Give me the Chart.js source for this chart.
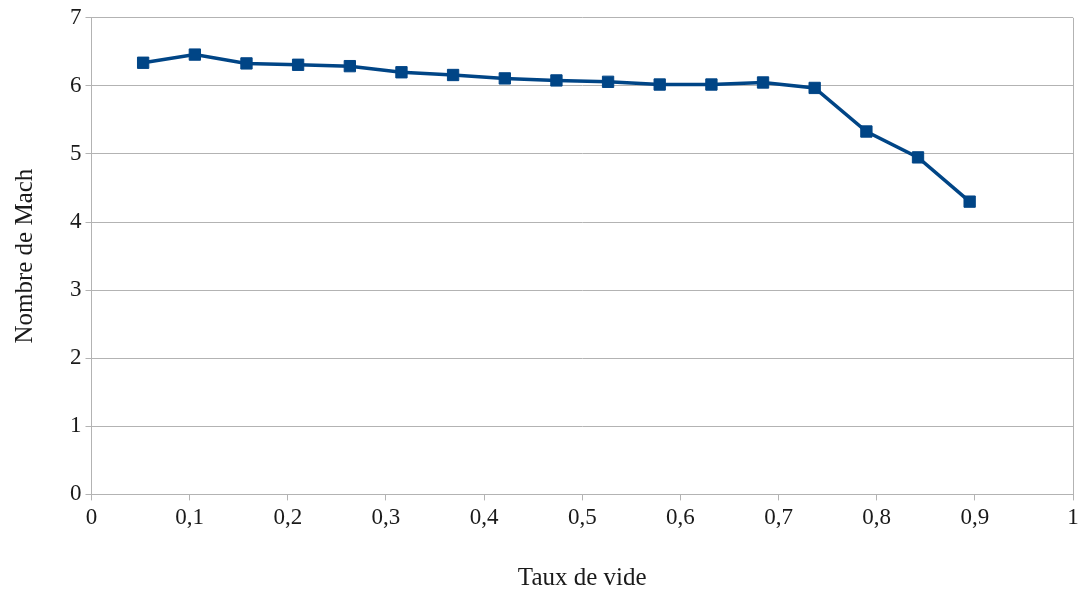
<!DOCTYPE html>
<html>
<head>
<meta charset="utf-8">
<script src="https://cdn.jsdelivr.net/npm/chart.js@4/dist/chart.umd.min.js"></script>
<style>
  html, body { margin: 0; padding: 0; background: #fff; }
  .chart-container { position: relative; width: 1083px; height: 593px; }
</style>
</head>
<body>
<div class="chart-container">
  <canvas id="mach-chart"></canvas>
</div>
<script>
// Taux de vide (x) vs Nombre de Mach (y)
const tauxDeVide = [0.0526, 0.1053, 0.1579, 0.2105, 0.2632, 0.3158, 0.3684, 0.4211, 0.4737,
  0.5263, 0.5789, 0.6316, 0.6842, 0.7368, 0.7895, 0.8421, 0.8947];
const nombreDeMach = [6.34, 6.46, 6.33, 6.31, 6.29, 6.20, 6.16, 6.11, 6.08,
  6.06, 6.02, 6.02, 6.05, 5.97, 5.33, 4.95, 4.30];

const xTitle = 'Taux de vide';
const yTitle = 'Nombre de Mach';

const gridGrey = '#b3b3b3';
const serif = "'Liberation Serif', 'DejaVu Serif', serif";

const ctx = document.getElementById('mach-chart').getContext('2d');
const chart = new Chart(ctx, {
  type: 'line',
  data: {
    datasets: [
      {
        label: yTitle,
        data: tauxDeVide.map((x, i) => ({ x: x, y: nombreDeMach[i] })),
        borderColor: '#004586',
        backgroundColor: '#004586',
        borderWidth: 3.5,
        pointStyle: 'rect',
        pointRadius: 8,
        pointBorderWidth: 1,
        tension: 0,
      },
    ],
  },
  options: {
    responsive: true,
    maintainAspectRatio: false,
    animation: false,
    layout: { padding: { top: 5, right: 10, left: 10, bottom: 0 } },
    plugins: {
      legend: { display: false },
      tooltip: { enabled: false },
    },
    scales: {
      x: {
        type: 'linear',
        min: 0,
        max: 1,
        ticks: {
          stepSize: 0.1,
          color: '#1a1a1a',
          font: { family: serif, size: 23 },
          padding: 4,
          callback: (v) => String(Math.round(v * 10) / 10).replace('.', ','),
        },
        grid: {
          color: (c) => (c.tick && c.tick.value === 1 ? gridGrey : 'rgba(0,0,0,0)'),
          tickColor: gridGrey,
          tickLength: 6,
        },
        border: { color: gridGrey, width: 1 },
        title: {
          display: true,
          text: xTitle,
          color: '#1a1a1a',
          font: { family: serif, size: 25 },
          padding: { top: 27, bottom: 0 },
        },
      },
      y: {
        min: 0,
        max: 7,
        ticks: {
          stepSize: 1,
          color: '#1a1a1a',
          font: { family: serif, size: 23 },
          padding: 4,
        },
        grid: {
          color: gridGrey,
          tickColor: gridGrey,
          tickLength: 6,
        },
        border: { color: gridGrey, width: 1 },
        title: {
          display: true,
          text: yTitle,
          color: '#1a1a1a',
          font: { family: serif, size: 25 },
          padding: { top: 0, bottom: 26 },
        },
      },
    },
  },
});
</script>
</body>
</html>
